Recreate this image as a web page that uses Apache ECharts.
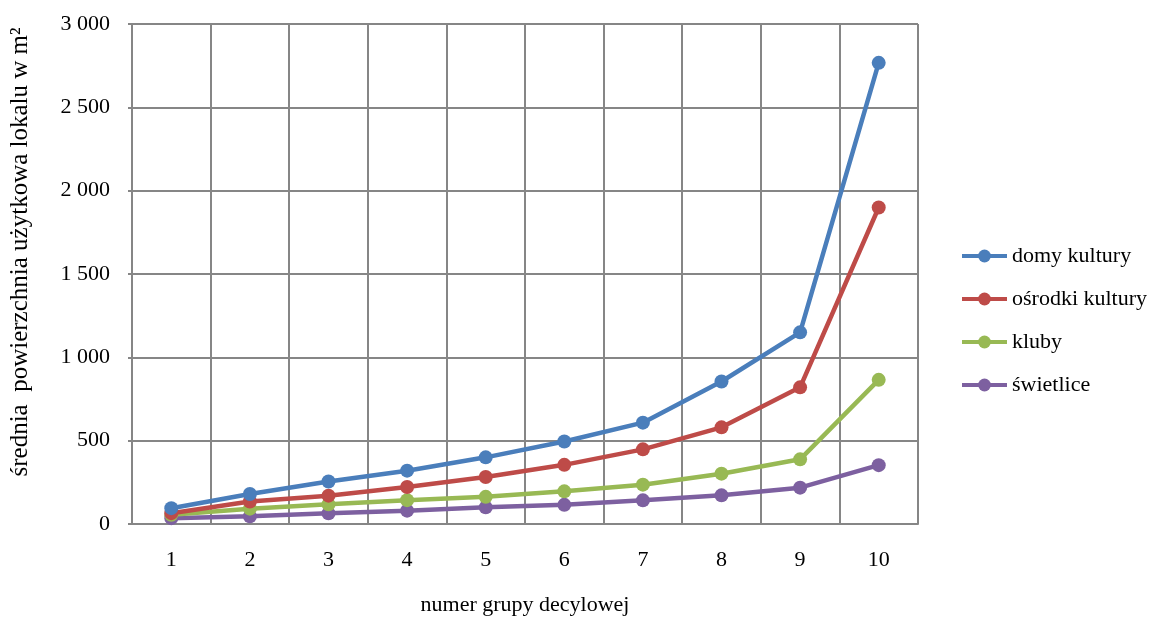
<!DOCTYPE html>
<html>
<head>
<meta charset="utf-8">
<script src="https://cdn.jsdelivr.net/npm/echarts@6/dist/echarts.min.js"></script>
<style>html,body{margin:0;padding:0;background:#fff;overflow:hidden}#c{width:1156px;height:621px}</style>
</head>
<body>
<div id="c"></div>
<script>
const categories = ['1','2','3','4','5','6','7','8','9','10'];
const seriesNames = ['domy kultury','ośrodki kultury','kluby','świetlice'];
const domyKultury = [95, 180, 255, 320, 400, 495, 608, 855, 1150, 2767];
const osrodkiKultury = [65, 135, 170, 222, 282, 355, 448, 580, 820, 1899];
const kluby = [55, 92, 118, 143, 163, 196, 236, 302, 388, 865];
const swietlice = [35, 46, 64, 80, 100, 115, 142, 172, 218, 353];
const colors = ['#4A7EBB', '#BE4B48', '#98B954', '#7D60A0'];
const yTicks = {min: 0, max: 3000, interval: 500};
const yName = 'średnia  powierzchnia użytkowa lokalu w m²';
const xName = 'numer grupy decylowej';

const font = 'Liberation Serif, Times New Roman, serif';
const chart = echarts.init(document.getElementById('c'), null, {renderer: 'canvas'});
const dataSets = [domyKultury, osrodkiKultury, kluby, swietlice];
chart.setOption({
  animation: false,
  color: colors,
  grid: {left: 132, right: 238, top: 24, bottom: 90, containLabel: false},
  legend: {
    orient: 'vertical', left: 955, top: 240,
    itemWidth: 45, itemHeight: 16, itemGap: 21,
    lineStyle: {width: 4},
    textStyle: {fontFamily: font, fontSize: 22, color: '#000'},
    data: seriesNames
  },
  graphic: [{
    type: 'text', rotation: Math.PI / 2,
    x: 20, y: 252,
    style: {text: yName, font: '25px ' + font, fill: '#000', textAlign: 'center', textVerticalAlign: 'middle'}
  }],
  xAxis: {
    type: 'category', data: categories, boundaryGap: true,
    name: xName, nameLocation: 'middle', nameGap: 70,
    nameTextStyle: {fontFamily: font, fontSize: 22, color: '#000'},
    axisLine: {lineStyle: {color: '#868686', width: 2}},
    axisTick: {show: false},
    axisLabel: {fontFamily: font, fontSize: 22, color: '#000', margin: 25},
    splitLine: {show: true, lineStyle: {color: '#868686', width: 2}}
  },
  yAxis: {
    type: 'value', min: yTicks.min, max: yTicks.max, interval: yTicks.interval,
    axisLine: {show: true, lineStyle: {color: '#868686', width: 2}},
    axisTick: {show: true, length: 4, lineStyle: {color: '#868686', width: 2}},
    axisLabel: {fontFamily: font, fontSize: 22, color: '#000', margin: 22,
      formatter: v => String(v).replace(/\B(?=(\d{3})+(?!\d))/g, ' ')},
    splitLine: {show: true, lineStyle: {color: '#868686', width: 2}}
  },
  series: seriesNames.map((n, i) => ({
    name: n, type: 'line', data: dataSets[i],
    symbol: 'circle', symbolSize: 14,
    lineStyle: {width: 4.5, color: colors[i]},
    itemStyle: {color: colors[i]},
    z: 10 - i
  }))
});
</script>
</body>
</html>
